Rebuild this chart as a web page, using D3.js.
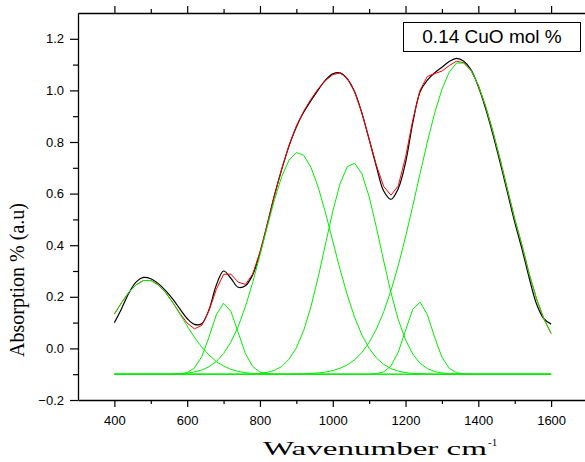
<!DOCTYPE html>
<html>
<head>
<meta charset="utf-8">
<script src="https://cdn.jsdelivr.net/npm/d3@7/dist/d3.min.js"></script>
<style>
body { margin: 0; background: #fff; }
.tick text { font-family: "Liberation Sans", Arial, sans-serif; font-size: 13px; fill: #000; }
</style>
</head>
<body>
<div id="visual"></div>
<script>
//data, one value every 20 cm-1
const wavenumber = [400,420,440,460,480,500,520,540,560,580,600,620,640,660,680,700,720,740,760,780,
	800,820,840,860,880,900,920,940,960,980,1000,1020,1040,1060,1080,1100,1120,1140,1160,1180,
	1200,1220,1240,1260,1280,1300,1320,1340,1360,1380,1400,1420,1440,1460,1480,1500,1520,1540,1560,1580,1600];

const measured = [0.100,0.155,0.215,0.258,0.275,0.270,0.252,0.225,0.192,0.153,0.116,0.093,0.096,0.150,0.245,0.300,0.272,0.237,0.243,0.285,
	0.370,0.480,0.595,0.695,0.785,0.858,0.915,0.960,1.002,1.040,1.064,1.068,1.045,0.995,0.912,0.810,0.705,0.610,0.578,0.620,
	0.720,0.875,0.995,1.040,1.068,1.090,1.112,1.124,1.113,1.080,1.015,0.930,0.830,0.720,0.605,0.490,0.385,0.272,0.172,0.115,0.094];

const fitted = [0.133,0.178,0.218,0.247,0.263,0.263,0.247,0.218,0.179,0.136,0.098,0.076,0.089,0.147,0.228,0.287,0.288,0.257,0.248,0.288,
	0.374,0.481,0.592,0.697,0.788,0.862,0.919,0.966,1.006,1.038,1.061,1.068,1.047,0.995,0.914,0.811,0.709,0.628,0.594,0.630,
	0.741,0.886,1.001,1.054,1.065,1.075,1.096,1.113,1.107,1.077,1.020,0.939,0.841,0.732,0.617,0.502,0.400,0.288,0.192,0.115,0.058];

const peak490 = [0.133,0.178,0.218,0.247,0.263,0.263,0.247,0.218,0.178,0.133,0.087,0.043,0.005,-0.026,-0.051,-0.068,-0.081,-0.089,-0.094,-0.097,
	-0.098,-0.099,-0.1,-0.1,-0.1,-0.1,-0.1,-0.1,-0.1,-0.1,-0.1,-0.1,-0.1,-0.1,-0.1,-0.1,-0.1,-0.1,-0.1,-0.1,
	-0.1,-0.1,-0.1,-0.1,-0.1,-0.1,-0.1,-0.1,-0.1,-0.1,-0.1,-0.1,-0.1,-0.1,-0.1,-0.1,-0.1,-0.1,-0.1,-0.1,-0.1];

const peak700 = [-0.1,-0.1,-0.1,-0.1,-0.1,-0.1,-0.1,-0.1,-0.1,-0.099,-0.094,-0.076,-0.032,0.044,0.130,0.175,0.144,0.062,-0.020,-0.070,
	-0.092,-0.098,-0.1,-0.1,-0.1,-0.1,-0.1,-0.1,-0.1,-0.1,-0.1,-0.1,-0.1,-0.1,-0.1,-0.1,-0.1,-0.1,-0.1,-0.1,
	-0.1,-0.1,-0.1,-0.1,-0.1,-0.1,-0.1,-0.1,-0.1,-0.1,-0.1,-0.1,-0.1,-0.1,-0.1,-0.1,-0.1,-0.1,-0.1,-0.1,-0.1];

const peak905 = [-0.1,-0.1,-0.1,-0.1,-0.1,-0.1,-0.1,-0.1,-0.099,-0.098,-0.096,-0.091,-0.084,-0.071,-0.051,-0.020,0.024,0.084,0.162,0.255,
	0.361,0.471,0.577,0.667,0.730,0.759,0.749,0.702,0.625,0.526,0.416,0.307,0.207,0.121,0.052,0.000,-0.037,-0.062,-0.078,-0.088,
	-0.094,-0.097,-0.098,-0.099,-0.1,-0.1,-0.1,-0.1,-0.1,-0.1,-0.1,-0.1,-0.1,-0.1,-0.1,-0.1,-0.1,-0.1,-0.1,-0.1,-0.1];

const peak1055 = [-0.1,-0.1,-0.1,-0.1,-0.1,-0.1,-0.1,-0.1,-0.1,-0.1,-0.1,-0.1,-0.1,-0.1,-0.1,-0.1,-0.1,-0.1,-0.1,-0.1,
	-0.097,-0.093,-0.085,-0.070,-0.042,0.002,0.069,0.161,0.276,0.404,0.531,0.638,0.704,0.718,0.677,0.588,0.469,0.339,0.216,0.112,
	0.033,-0.022,-0.058,-0.078,-0.090,-0.095,-0.098,-0.099,-0.1,-0.1,-0.1,-0.1,-0.1,-0.1,-0.1,-0.1,-0.1,-0.1,-0.1,-0.1,-0.1];

const peak1240 = [-0.1,-0.1,-0.1,-0.1,-0.1,-0.1,-0.1,-0.1,-0.1,-0.1,-0.1,-0.1,-0.1,-0.1,-0.1,-0.1,-0.1,-0.1,-0.1,-0.1,
	-0.1,-0.1,-0.1,-0.1,-0.1,-0.1,-0.1,-0.1,-0.1,-0.1,-0.1,-0.1,-0.1,-0.1,-0.1,-0.1,-0.098,-0.091,-0.068,-0.015,
	0.070,0.152,0.179,0.131,0.043,-0.034,-0.077,-0.094,-0.099,-0.1,-0.1,-0.1,-0.1,-0.1,-0.1,-0.1,-0.1,-0.1,-0.1,-0.1,-0.1];

const peak1350 = [-0.1,-0.1,-0.1,-0.1,-0.1,-0.1,-0.1,-0.1,-0.1,-0.1,-0.1,-0.1,-0.1,-0.1,-0.1,-0.1,-0.1,-0.1,-0.1,-0.1,
	-0.1,-0.1,-0.1,-0.1,-0.1,-0.099,-0.099,-0.097,-0.095,-0.092,-0.086,-0.077,-0.064,-0.044,-0.016,0.023,0.075,0.142,0.224,0.321,
	0.432,0.553,0.678,0.800,0.912,1.004,1.071,1.106,1.106,1.077,1.020,0.939,0.841,0.732,0.617,0.502,0.400,0.288,0.192,0.115,0.058];

const components = [peak490, peak700, peak905, peak1055, peak1240, peak1350];

const xMajor = [400,600,800,1000,1200,1400,1600];
const xMinor = [500,700,900,1100,1300,1500];
const yMajor = [-0.2,0.0,0.2,0.4,0.6,0.8,1.0,1.2];
const yMinor = [-0.1,0.1,0.3,0.5,0.7,0.9,1.1];
const legendLabel = "0.14 CuO mol %";

//constants
const width = 585;
const height = 462;
const plot = {left: 78, right: 587.5, top: 13, bottom: 400};

const svg = d3.select("#visual")
	.append("svg")
	.attr("width", width)
	.attr("height", height)
	.style("font-family", "'Liberation Sans', Arial, sans-serif");

const x = d3.scaleLinear().domain([300, 1700]).range([plot.left, plot.right]);
const y = d3.scaleLinear().domain([-0.2, 1.3]).range([plot.bottom, plot.top]);

const line = (vals) => d3.line()
	.x((d, i) => x(wavenumber[i]))
	.y(d => y(d))(vals);

//curves
svg.append("path")
	.attr("d", d3.line().curve(d3.curveCatmullRom).x((d, i) => x(wavenumber[i])).y(d => y(d))(measured))
	.attr("fill", "none")
	.attr("stroke", "#000")
	.attr("stroke-width", 1.2);

svg.append("path")
	.attr("d", line(fitted))
	.attr("fill", "none")
	.attr("stroke", "#ff0000")
	.attr("stroke-width", 1);

svg.selectAll(".component")
	.data(components)
	.enter()
	.append("path")
	.attr("class", "component")
	.attr("d", d => line(d))
	.attr("fill", "none")
	.attr("stroke", "#00ee00")
	.attr("stroke-width", 1);

//axes
function styleAxis(g) {
	g.select(".domain").attr("stroke", "#000").attr("stroke-width", 1.3);
	g.selectAll(".tick line").attr("stroke", "#000").attr("stroke-width", 1.2);
}

svg.append("g")
	.attr("transform", "translate(0," + plot.bottom + ")")
	.call(d3.axisBottom(x).tickValues(xMajor).tickSize(7).tickSizeOuter(0).tickPadding(9).tickFormat(d3.format("d")))
	.call(styleAxis);
svg.append("g")
	.attr("transform", "translate(0," + plot.bottom + ")")
	.call(d3.axisBottom(x).tickValues(xMinor).tickSize(4).tickSizeOuter(0).tickFormat(""))
	.call(g => g.select(".domain").remove())
	.call(styleAxis);

svg.append("g")
	.attr("transform", "translate(0," + plot.top + ")")
	.call(d3.axisTop(x).tickValues(xMajor).tickSize(7).tickSizeOuter(0).tickFormat(""))
	.call(styleAxis);
svg.append("g")
	.attr("transform", "translate(0," + plot.top + ")")
	.call(d3.axisTop(x).tickValues(xMinor).tickSize(4).tickSizeOuter(0).tickFormat(""))
	.call(g => g.select(".domain").remove())
	.call(styleAxis);

svg.append("g")
	.attr("transform", "translate(" + plot.left + ",0)")
	.call(d3.axisLeft(y).tickValues(yMajor).tickSize(8).tickSizeOuter(0).tickPadding(6).tickFormat(d3.format(".1f")))
	.call(styleAxis);
svg.append("g")
	.attr("transform", "translate(" + plot.left + ",0)")
	.call(d3.axisLeft(y).tickValues(yMinor).tickSize(5).tickSizeOuter(0).tickFormat(""))
	.call(g => g.select(".domain").remove())
	.call(styleAxis);

//axis titles
svg.append("text")
	.attr("transform", "translate(24,280) rotate(-90)")
	.attr("text-anchor", "middle")
	.style("font-family", "'Liberation Serif', 'Times New Roman', serif")
	.style("font-size", "20px")
	.text("Absorption % (a.u)");

svg.append("text")
	.attr("x", 263)
	.attr("y", 455)
	.attr("textLength", 224)
	.attr("lengthAdjust", "spacingAndGlyphs")
	.style("font-family", "'Liberation Serif', 'Times New Roman', serif")
	.style("font-size", "18px")
	.text("Wavenumber cm");
svg.append("text")
	.attr("x", 488)
	.attr("y", 446)
	.style("font-family", "'Liberation Serif', 'Times New Roman', serif")
	.style("font-size", "11px")
	.text("-1");

//legend box
const legend = svg.append("g");
legend.append("rect")
	.attr("x", 403.5)
	.attr("y", 22.5)
	.attr("width", 177)
	.attr("height", 29)
	.attr("fill", "#fff")
	.attr("stroke", "#000")
	.attr("stroke-width", 1);
legend.append("text")
	.attr("x", 492)
	.attr("y", 43)
	.attr("text-anchor", "middle")
	.style("font-size", "19px")
	.text(legendLabel);
</script>
</body>
</html>
